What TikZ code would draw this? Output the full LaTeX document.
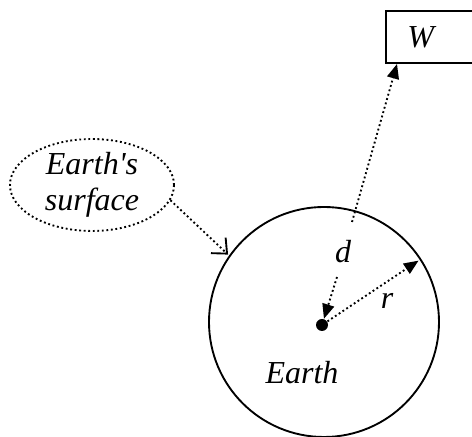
\documentclass[tikz,border=0pt]{standalone}
\usepackage{fontspec}
\setmainfont{Liberation Serif}[Ligatures=TeXOff]
\usetikzlibrary{positioning,shapes,arrows.meta}

\begin{document}
\begin{tikzpicture}[x=0.375pt, y=-0.375pt,
    every node/.style={font=\itshape\fontsize{12}{13.5}\selectfont, align=center},
    dotarrow/.style={densely dotted, line width=0.7pt, -{Triangle[length=5.5pt,width=4.5pt]}},
    barbarrow/.style={densely dotted, line width=0.7pt, -{Straight Barb[length=4.5pt,width=8pt]}}]
    \useasboundingbox (0,0) rectangle (472,437);

    % Erde mit Mittelpunkt
    \node (earth) [draw, circle, minimum size=86.25pt, inner sep=0pt, line width=0.7pt] at (324,322) {};
    \node (dot) [circle, fill, minimum size=4.5pt, inner sep=0pt] at (322,325) {};
    \node (earthlab) at (302,373) {Earth};

    % Oberflaeche
    \node (surf) [draw, densely dotted, line width=0.7pt, ellipse, minimum width=61.5pt, minimum height=32.25pt, inner sep=0pt] at (92,185) {Earth's\\surface};
    \draw[barbarrow, shorten >=0.5pt] (surf.-11) -- (earth.145);

    % Kasten W, rechts abgeschnitten
    \node (wbox) [draw, anchor=south west, minimum height=19.5pt, text width=19.6pt, inner xsep=8pt, align=left, line width=0.7pt] at (385,64) {W};

    % Abstand d und Radius r
    \coordinate (dtop) at (337,277);
    \coordinate (wfoot) at (352,222);
    \node (dlab) at (343,252) {d};
    \node (rlab) at (387,301) {r};
    \draw[dotarrow] (dtop) -- (dot);
    \draw[dotarrow] (wfoot) -- ([xshift=4.5pt]wbox.south west);
    \draw[dotarrow, shorten >=1.2pt] (dot) -- (earth.33);
\end{tikzpicture}
\end{document}
